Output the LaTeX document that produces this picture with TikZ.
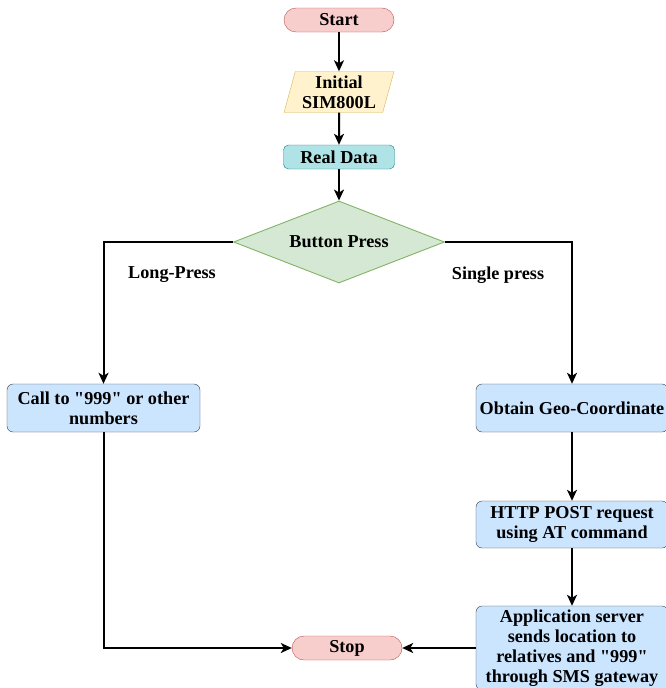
\documentclass[tikz,border=0pt]{standalone}
\usepackage{fontspec}
\setmainfont{Liberation Serif}[Ligatures=TeXOff]
\usetikzlibrary{shapes.geometric,arrows.meta}
\definecolor{termfill}{HTML}{F8CECC}
\definecolor{termline}{HTML}{B85450}
\definecolor{iofill}{HTML}{FFF2CC}
\definecolor{ioline}{HTML}{D6B656}
\definecolor{datafill}{HTML}{B0E3E6}
\definecolor{dataline}{HTML}{0E8088}
\definecolor{decfill}{HTML}{D5E8D4}
\definecolor{decline}{HTML}{82B366}
\definecolor{stepfill}{HTML}{CCE5FF}
\definecolor{stepline}{HTML}{36393D}
\tikzset{
  term/.style = {draw=termline, fill=termfill, rounded corners=12pt, minimum width=110pt, minimum height=24pt, inner sep=0pt},
  io/.style = {draw=ioline, fill=iofill, trapezium, trapezium left angle=71, trapezium right angle=109, trapezium stretches body, minimum width=110pt, minimum height=41pt, inner sep=0pt, align=center},
  stepbox/.style = {draw=stepline, fill=stepfill, rounded corners=6pt, minimum width=192pt, inner sep=0pt, align=center},
  decision/.style = {draw=decline, line width=0.9pt, fill=decfill, diamond, aspect=2.57, minimum width=211pt, minimum height=82pt, inner sep=0pt},
  arr/.style = {line width=2pt, -{Stealth[length=11pt,width=10pt,inset=3pt]}}
}
\begin{document}
\begin{tikzpicture}[x=1pt, y=-1pt, font=\bfseries\fontsize{18.2}{20}\selectfont]
  \useasboundingbox (0,0) rectangle (666,688);
  \node[term] (start) at (339,20) {Start};
  \node[io] (init) at (339,92) {Initial\\SIM800L};
  \node[stepbox, draw=dataline, fill=datafill, minimum width=111pt, minimum height=24pt, rounded corners=5pt] (real) at (339,157) {Real Data};
  \node[decision] (btn) at (339,242) {Button Press};
  \node[stepbox, minimum width=193pt, minimum height=48pt] (call) at (103.5,408) {Call to "999" or other\\numbers};
  \node[stepbox, minimum height=48pt] (geo) at (572,408) {Obtain Geo-Coordinate};
  \node[stepbox, minimum height=47pt] (http) at (572,524.5) {HTTP POST request\\using AT command};
  \node[stepbox, minimum height=84pt] (app) at (572,648) {Application server\\sends location to\\relatives and "999"\\through SMS gateway};
  \node[term] (stop) at (347,648) {Stop};
  \node (long) at (172,275) {Long-Press};
  \node (single) at (498,275) {Single press};
  \draw[arr] (start) -- (init);
  \draw[arr] (init) -- (real);
  \draw[arr] (real) -- (btn);
  \draw[arr] (btn.west) -| (call.north);
  \draw[arr] (btn.east) -| (geo.north);
  \draw[arr] (geo) -- (http);
  \draw[arr] (http) -- (app);
  \draw[arr] (call.south) |- (stop.west);
  \draw[arr] (app.west) -- (stop.east);
\end{tikzpicture}
\end{document}
